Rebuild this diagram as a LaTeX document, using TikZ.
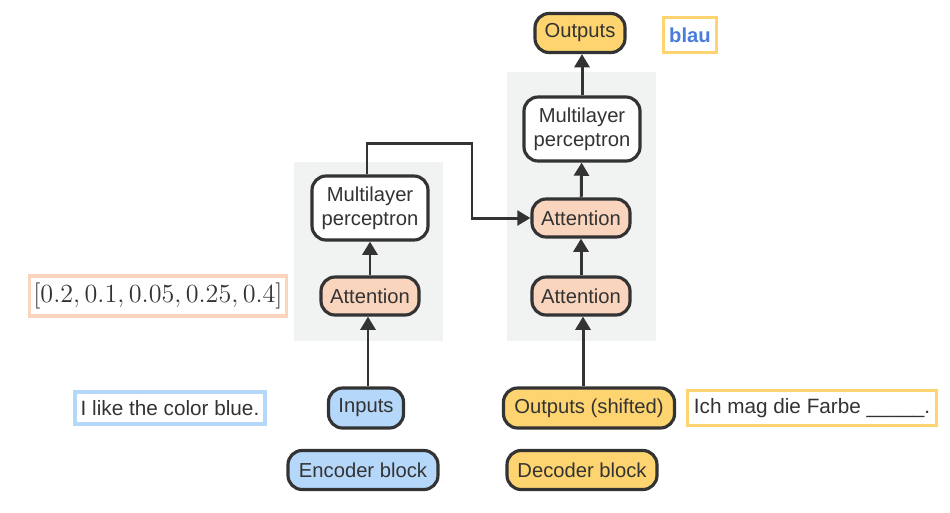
\documentclass[tikz,border=0pt]{standalone}
\usepackage{fontspec}
\setmainfont{Liberation Sans}
\usetikzlibrary{arrows.meta}

\definecolor{ink}{HTML}{333333}
\definecolor{panel}{HTML}{F1F2F2}
\definecolor{peach}{HTML}{F9D5BD}
\definecolor{sky}{HTML}{B4D7FA}
\definecolor{sun}{HTML}{FDD46F}
\definecolor{word}{HTML}{4A7DDB}

\tikzset{
	block/.style = {draw = ink, line width = 1.8pt, rounded corners = 8pt, text = ink, align = center, inner sep = 0pt, font = \fontsize{11.5}{13.5}\selectfont},
	attn/.style = {block, fill = peach, minimum width = 1.96cm, minimum height = 0.76cm},
	mlp/.style = {block, fill = white, minimum width = 2.32cm, minimum height = 1.28cm},
	enc/.style = {block, fill = sky},
	dec/.style = {block, fill = sun},
	note/.style = {draw = #1, line width = 2pt, fill = white, text = ink, inner sep = 0pt, font = \fontsize{11.8}{13.5}\selectfont},
	flow/.style = {draw = ink, line width = 1.7pt, -{Triangle[length = 7.5pt, width = 8.5pt]}}
}

\begin{document}
\begin{tikzpicture}[x = 0.02cm, y = -0.02cm]

\useasboundingbox (0, 0) rectangle (950, 512);

% The gray panels

\fill [panel] (294, 162) rectangle (443, 341);
\fill [panel] (507, 72) rectangle (656, 341);

% Encoder side

\node [attn] (enc-attn) at (370, 296) {Attention};
\node [mlp] (enc-mlp) at (370, 208) {Multilayer\\perceptron};
\node [enc, minimum width = 1.5cm, minimum height = 0.8cm] (inputs) at (366, 408) {Inputs};
\node [enc, minimum width = 3cm, minimum height = 0.78cm] (enc-block) at (363, 470) {Encoder block};

% Decoder side

\node [attn] (dec-attn1) at (581, 296) {Attention};
\node [attn] (dec-attn2) at (581, 218) {Attention};
\node [mlp] (dec-mlp) at (582, 129) {Multilayer\\perceptron};
\node [dec, minimum width = 1.8cm, minimum height = 0.78cm] (outputs) at (580, 33) {Outputs};
\node [dec, minimum width = 3.42cm, minimum height = 0.8cm] (shifted) at (589, 408) {Outputs (shifted)};
\node [dec, minimum width = 3cm, minimum height = 0.78cm] (dec-block) at (582, 470) {Decoder block};

% The example texts

\node [note = sky, minimum width = 3.8cm, minimum height = 0.64cm] (sentence) at (170, 408) {I like the color blue.};
\node [note = peach, minimum width = 5.14cm, minimum height = 0.8cm, font = \fontsize{12}{14}\selectfont] (vector) at (158, 296) {\scalebox{1.24}{$[0.2, 0.1, 0.05, 0.25, 0.4]$}};
\node [note = sun, minimum width = 4.98cm, minimum height = 0.7cm] (prompt) at (812, 408) {Ich mag die Farbe \_\_\_\_\_.};
\node [note = sun, minimum width = 1.06cm, minimum height = 0.7cm, text = word, font = \fontsize{11.5}{13.5}\selectfont\bfseries] (answer) at (690, 35) {blau};

% Arrows

\draw [flow] (inputs.north -| 368, 0) -- (enc-attn.south -| 368, 0);
\draw [flow] (enc-attn) -- (enc-mlp);
\draw [flow] (shifted.north -| 583, 0) -- (dec-attn1.south -| 583, 0);
\draw [flow] (dec-attn1) -- (dec-attn2);
\draw [flow] (dec-attn2) -- (dec-mlp);
\draw [flow] (dec-mlp.north -| 582, 0) -- (outputs.south -| 582, 0);
\draw [flow] (enc-mlp.north -| 367, 0) |- (472, 143) |- (dec-attn2.west);

\end{tikzpicture}
\end{document}
